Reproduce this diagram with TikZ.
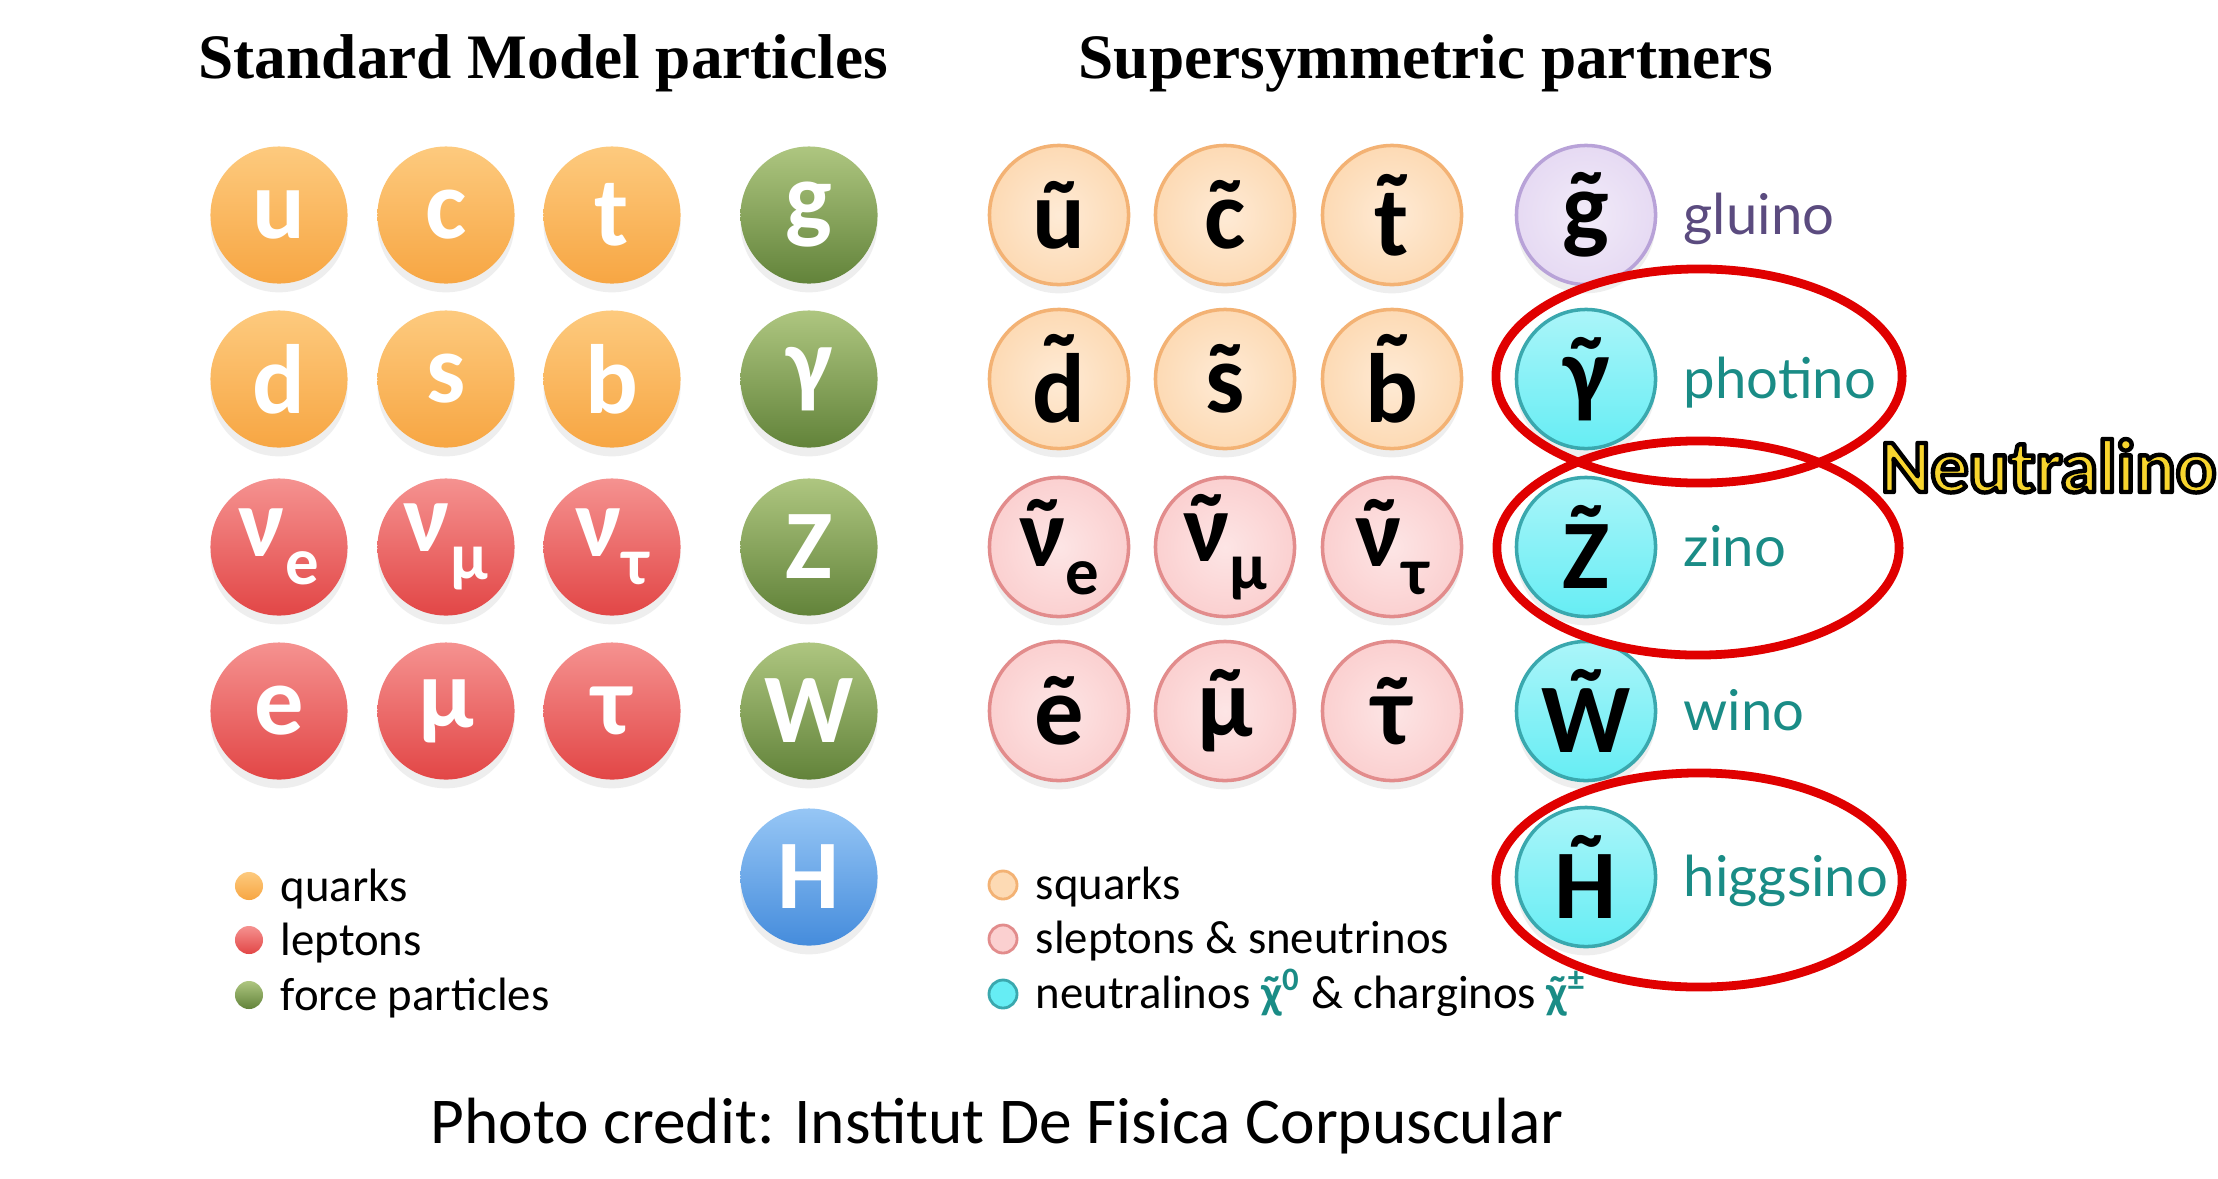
\documentclass[tikz,border=0pt]{standalone}
\usepackage{fontspec}
\setmainfont{Carlito}
\newfontfamily\titlefont{Liberation Serif}
\newfontfamily\gillfont{Lato}
\usetikzlibrary{shadows}
\definecolor{qtop}{HTML}{FDCA7E}
\definecolor{qbot}{HTML}{F7A643}
\definecolor{ltop}{HTML}{F59290}
\definecolor{lbot}{HTML}{E24646}
\definecolor{ftop}{HTML}{AEC680}
\definecolor{fbot}{HTML}{62833A}
\definecolor{htop}{HTML}{96C6F5}
\definecolor{hbot}{HTML}{458CDC}
\definecolor{sqfill}{HTML}{FDDAB4}
\definecolor{sqdraw}{HTML}{F3B274}
\definecolor{slfill}{HTML}{FBD0D0}
\definecolor{sldraw}{HTML}{E28C8C}
\definecolor{glfill}{HTML}{E6DAF3}
\definecolor{gldraw}{HTML}{B8A2D8}
\definecolor{nfill}{HTML}{66EDF4}
\definecolor{ndraw}{HTML}{3AA8AE}
\definecolor{glucol}{HTML}{5B4B7F}
\definecolor{tealc}{HTML}{1A8C86}
\definecolor{nred}{HTML}{E00000}
\definecolor{nyel}{HTML}{F8D52E}
\newcommand\tld[1]{{\setbox0\hbox{#1}\setbox2\hbox{x}%
  \rlap{\hbox to \wd0{\hss\raisebox{\dimexpr\ht0-\ht2\relax}{\char"02DC}\hss}}\box0}}
\newcommand\sbs[1]{\raisebox{-0.28em}{\fontsize{19}{19}\selectfont #1}}
\begin{document}
\begin{tikzpicture}[x=0.01cm,y=-0.01cm,
  ball/.style={circle, inner sep=0pt, font=\fontsize{28}{28}\selectfont\bfseries,
    drop shadow={shadow xshift=0pt, shadow yshift=-2.5pt, opacity=0.13}},
  smball/.style={ball, minimum size=1.37cm, text=white},
  quark/.style={smball, top color=qtop, bottom color=qbot},
  lepton/.style={smball, top color=ltop, bottom color=lbot},
  force/.style={smball, top color=ftop, bottom color=fbot},
  higgs/.style={smball, top color=htop, bottom color=hbot},
  suball/.style={ball, minimum size=1.39cm, text=black, line width=1pt},
  squark/.style={suball, draw=sqdraw, inner color=sqfill!55!white, outer color=sqfill},
  slepton/.style={suball, draw=sldraw, inner color=slfill!55!white, outer color=slfill},
  gluino/.style={suball, draw=gldraw, inner color=glfill!55!white, outer color=glfill},
  neut/.style={suball, draw=ndraw, top color=nfill!55!white, bottom color=nfill},
  bul/.style={circle, inner sep=0pt, minimum size=0.28cm},
  legtext/.style={anchor=mid west, inner sep=0pt, font=\fontsize{13.3}{16}\selectfont},
  gill/.style={anchor=mid west, inner sep=0pt, font=\gillfont\fontsize{16}{18}\selectfont, text=tealc},
  ttl/.style={anchor=base west, inner sep=0pt, font=\titlefont\bfseries\fontsize{18}{20}\selectfont},
  ring/.style={draw=nred, line width=2.5pt}
]
\fill[white] (0,0) rectangle (2218,1178);
\useasboundingbox (0,0) rectangle (2218,1178);

% titles
\node[ttl] (t1) at (198,78) {Standard Model particles};
\node[ttl] (t2) at (1078,78) {Supersymmetric partners};

% Standard Model particles
\node[quark] (u) at (279,215) {u};
\node[quark] (c) at (446,215) {c};
\node[quark] (t) at (612,215) {t};
\node[force] (g) at (809,215) {g};
\node[quark] (d) at (279,379) {d};
\node[quark] (s) at (446,379) {s};
\node[quark] (b) at (612,379) {b};
\node[force] (gam) at (809,379) {γ};
\node[lepton] (nue) at (279,547) {ν\sbs{e}};
\node[lepton] (num) at (446,547) {ν\sbs{μ}};
\node[lepton] (nut) at (612,547) {ν\sbs{τ}};
\node[force] (Z) at (809,547) {Z};
\node[lepton] (e) at (279,711) {e};
\node[lepton] (mu) at (446,711) {μ};
\node[lepton] (tau) at (612,711) {τ};
\node[force] (W) at (809,711) {W};
\node[higgs] (H) at (809,877) {H};

% Supersymmetric partners
\node[squark] (su) at (1059,215) {\tld{u}};
\node[squark] (sc) at (1225,215) {\tld{c}};
\node[squark] (st) at (1392,215) {\tld{t}};
\node[gluino] (sg) at (1586,215) {\tld{g}};
\node[squark] (sd) at (1059,379) {\tld{d}};
\node[squark] (ss) at (1225,379) {\tld{s}};
\node[squark] (sb) at (1392,379) {\tld{b}};
\node[neut] (sgam) at (1586,379) {\tld{γ}};
\node[slepton] (snue) at (1059,547) {\tld{ν}\sbs{e}};
\node[slepton] (snum) at (1225,547) {\tld{ν}\sbs{μ}};
\node[slepton] (snut) at (1392,547) {\tld{ν}\sbs{τ}};
\node[neut] (sZ) at (1586,547) {\tld{Z}};
\node[slepton] (se) at (1059,711) {\tld{e}};
\node[slepton] (smu) at (1225,711) {\tld{μ}};
\node[slepton] (stau) at (1392,711) {\tld{τ}};
\node[neut] (sW) at (1586,711) {\tld{W}};
\node[neut] (sH) at (1586,877) {\tld{H}};

% names of the gauginos
\node[gill, text=glucol] (lg) at (1683,226) {gluino};
\node[gill] (lp) at (1683,390) {photino};
\node[gill] (lz) at (1683,558) {zino};
\node[gill] (lw) at (1683,722) {wino};
\node[gill] (lh) at (1683,888) {higgsino};

% legends
\node[bul, top color=qtop, bottom color=qbot] (b1) at (249,886) {};
\node[bul, top color=ltop, bottom color=lbot] (b2) at (249,940) {};
\node[bul, top color=ftop, bottom color=fbot] (b3) at (249,995) {};
\node[legtext] (l1) at (280,893) {quarks};
\node[legtext] (l2) at (280,947) {leptons};
\node[legtext] (l3) at (280,1002) {force particles};

\node[bul, draw=sqdraw, line width=0.8pt, fill=sqfill] (b4) at (1003,885) {};
\node[bul, draw=sldraw, line width=0.8pt, fill=slfill] (b5) at (1003,939) {};
\node[bul, draw=ndraw, line width=0.8pt, fill=nfill] (b6) at (1003,994) {};
\node[legtext] (l4) at (1035,891) {squarks};
\node[legtext] (l5) at (1035,945) {sleptons \& sneutrinos};
\node[legtext] (l6) at (1035,1000) {neutralinos {\color{tealc}\bfseries\tld{χ}\textsuperscript{0}} \& charginos {\color{tealc}\bfseries\tld{χ}\textsuperscript{±}}};

% red rings
\draw[ring] (1699,376) ellipse [x radius=2.03cm, y radius=1.07cm];
\draw[ring] (1698,548) ellipse [x radius=2.01cm, y radius=1.07cm];
\draw[ring] (1699,880) ellipse [x radius=2.03cm, y radius=1.07cm];

% Neutralino label
\node[anchor=base west, inner sep=0pt, text=nyel, font=\fontsize{21.5}{22}\selectfont\bfseries] (neu) at (1880,492)
  {\special{pdf:literal direct 1 j 0 0 0 RG 1.25 w 2 Tr}Neutralino\special{pdf:literal direct 0 Tr}};

% credit
\node[anchor=base, inner sep=0pt, font=\fontsize{18.6}{20}\selectfont] (cred) at (997,1143) {Photo credit: Institut De Fisica Corpuscular};
\end{tikzpicture}
\end{document}
